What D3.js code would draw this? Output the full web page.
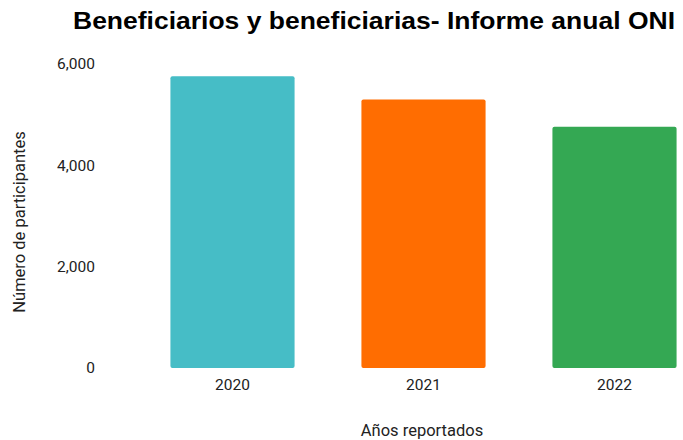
<!DOCTYPE html>
<html>
<head>
<meta charset="utf-8">
<style>
  body { margin: 0; background: #fff; }
  svg { display: block; }
  text { font-family: Roboto, Arial, sans-serif; }
</style>
</head>
<body>
<svg id="chart" width="683" height="440"></svg>
<script src="https://d3js.org/d3.v7.min.js"></script>
<script>
var years = ["2020", "2021", "2022"];
var participantes = [5760, 5300, 4760];
var barColors = ["#46bdc6", "#ff6d01", "#34a853"];
var yTicks = [0, 2000, 4000, 6000];

var svg = d3.select("#chart");

var x = d3.scaleBand()
  .domain(years)
  .range([137, 710])
  .paddingInner(0.35)
  .paddingOuter(0.175);

var y = d3.scaleLinear()
  .domain([0, 6000])
  .range([368, 64]);

// bars
svg.selectAll("rect.bar")
  .data(years)
  .enter().append("rect")
  .attr("class", "bar")
  .attr("x", function(d) { return x(d); })
  .attr("y", function(d, i) { return y(participantes[i]); })
  .attr("width", x.bandwidth())
  .attr("height", function(d, i) { return y(0) - y(participantes[i]); })
  .attr("rx", 2)
  .attr("fill", function(d, i) { return barColors[i]; });

// y axis labels
var yAxis = d3.axisLeft(y)
  .tickValues(yTicks)
  .tickFormat(d3.format(","))
  .tickSize(0)
  .tickPadding(0);

svg.append("g")
  .attr("transform", "translate(95,0)")
  .call(yAxis)
  .call(function(g) { g.select(".domain").remove(); })
  .selectAll("text")
  .attr("fill", "#222")
  .style("font-size", "15.5px")
  .style("font-family", "Roboto, Arial, sans-serif");

// x axis labels
var xAxis = d3.axisBottom(x).tickSize(0).tickPadding(0);
svg.append("g")
  .attr("transform", "translate(0,379)")
  .call(xAxis)
  .call(function(g) { g.select(".domain").remove(); })
  .selectAll("text")
  .attr("fill", "#222")
  .style("font-size", "15.5px")
  .style("font-family", "Roboto, Arial, sans-serif");

// title
svg.append("text")
  .attr("x", 374)
  .attr("y", 29)
  .attr("text-anchor", "middle")
  .attr("fill", "#000")
  .attr("textLength", 602)
  .attr("lengthAdjust", "spacingAndGlyphs")
  .style("font-family", "'Liberation Sans', Arial, sans-serif")
  .style("font-weight", "bold")
  .style("font-size", "24px")
  .text("Beneficiarios y beneficiarias- Informe anual ONI");

// axis titles
svg.append("text")
  .attr("x", 422)
  .attr("y", 436)
  .attr("text-anchor", "middle")
  .attr("fill", "#222")
  .style("font-size", "16.5px")
  .text("Años reportados");

svg.append("text")
  .attr("transform", "translate(25,222) rotate(-90)")
  .attr("text-anchor", "middle")
  .attr("fill", "#222")
  .style("font-size", "16.5px")
  .text("Número de participantes");
</script>
</body>
</html>
